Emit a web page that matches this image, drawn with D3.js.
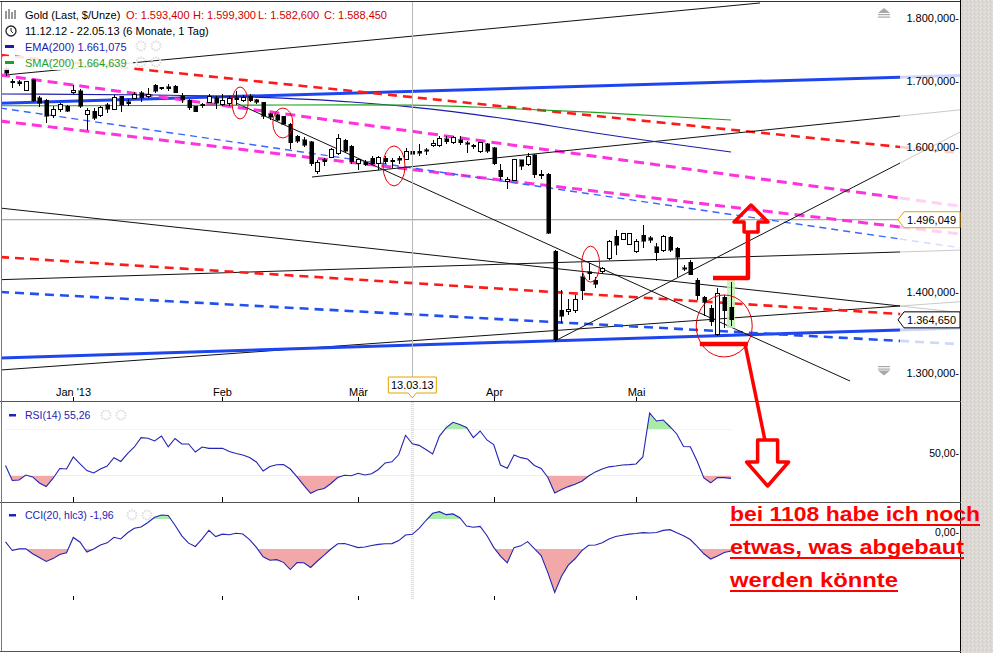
<!DOCTYPE html>
<html><head><meta charset="utf-8">
<script src="https://cdn.jsdelivr.net/npm/d3@7"></script>
<style>
html,body{margin:0;padding:0;background:#fff;}
svg{display:block;font-family:"Liberation Sans",Arial,sans-serif;}
</style></head><body>
<svg id="c" width="993" height="653"></svg>
<script>
// ---------- DATA ----------
const openP = [1719.6,1698.6,1697.8,1685.3,1700.9,1673.0,1669.9,1646.3,1656.1,1660.0,1681.4,1683.8,1647.1,1653.1,1646.3,1662.3,1656.1,1675.3,1666.9,1672.2,1681.4,1675.3,1692.3,1689.2,1690.7,1691.5,1675.3,1669.9,1660.0,1663.1,1666.1,1673.7,1663.1,1663.8,1673.7,1669.9,1675.3,1670.6,1666.1,1649.3,1647.1,1644.8,1632.8,1614.9,1610.4,1607.3,1563.8,1581.1,1584.0,1589.9,1609.6,1600.8,1574.6,1578.2,1582.6,1574.6,1582.6,1580.2,1582.6,1581.1,1593.4,1592.8,1595.0,1602.3,1602.3,1611.9,1605.9,1610.4,1605.9,1602.3,1592.8,1604.5,1598.6,1565.3,1550.2,1551.6,1580.4,1573.2,1587.7,1557.4,1560.2,1453.7,1376.5,1375.2,1376.5,1419.8,1426.5,1415.5,1426.5,1443.6,1473.2,1469.1,1462.4,1453.0,1475.2,1471.8,1459.7,1455.0,1472.5,1457.7,1431.8,1439.0,1415.5,1393.0,1379.0,1345.9,1393.0,1380.3];
const highP = [1722.8,1702.5,1700.9,1699.3,1702.5,1676.1,1671.4,1660.0,1665.3,1662.3,1692.3,1686.9,1657.7,1657.7,1660.8,1665.3,1677.6,1676.8,1672.2,1682.2,1683.8,1688.4,1694.7,1690.0,1693.9,1693.1,1681.4,1671.4,1660.8,1664.6,1679.9,1676.1,1679.9,1675.3,1683.8,1677.6,1678.4,1672.2,1667.6,1650.8,1649.3,1646.3,1634.3,1617.2,1613.4,1608.9,1580.4,1582.6,1597.2,1618.7,1611.9,1602.3,1581.9,1580.4,1585.5,1585.5,1585.5,1582.6,1585.5,1597.2,1599.3,1604.5,1597.2,1609.6,1614.9,1614.9,1615.7,1614.9,1608.9,1603.7,1607.3,1605.9,1600.1,1575.3,1556.6,1581.1,1581.1,1589.9,1589.2,1566.0,1561.7,1455.0,1402.6,1391.1,1395.6,1424.1,1438.4,1419.4,1433.0,1468.4,1482.0,1478.6,1478.6,1470.4,1488.8,1473.8,1464.4,1475.2,1473.8,1459.0,1435.0,1441.6,1418.0,1394.3,1383.4,1405.2,1396.2,1412.9];
const lowP = [1707.1,1688.4,1691.5,1683.8,1666.9,1659.3,1635.1,1642.5,1651.6,1651.6,1679.1,1657.7,1624.6,1639.5,1644.0,1650.1,1654.6,1652.3,1660.0,1671.4,1667.6,1673.0,1680.7,1685.3,1683.8,1680.7,1665.3,1654.6,1651.6,1657.7,1664.6,1656.1,1660.0,1660.0,1662.3,1667.6,1666.1,1663.1,1641.7,1639.5,1637.3,1632.1,1596.5,1605.9,1600.1,1571.0,1560.2,1571.0,1582.6,1587.7,1589.9,1574.6,1566.0,1571.0,1573.2,1566.0,1575.3,1568.9,1575.3,1580.4,1582.6,1585.5,1587.7,1600.1,1600.1,1604.5,1604.5,1602.3,1590.6,1596.5,1589.9,1591.3,1572.5,1551.6,1538.8,1549.5,1565.3,1571.0,1554.5,1553.0,1476.6,1337.3,1360.8,1370.8,1373.3,1389.8,1415.5,1405.2,1423.9,1441.6,1448.3,1468.4,1461.7,1451.7,1457.7,1464.4,1440.3,1453.0,1453.0,1420.0,1427.2,1421.9,1389.8,1368.9,1356.4,1344.7,1354.6,1357.0];
const closeP = [1711.8,1696.2,1694.7,1697.8,1669.1,1665.3,1644.8,1656.1,1662.3,1653.1,1685.3,1660.0,1654.6,1642.5,1658.5,1656.1,1673.7,1661.5,1663.8,1677.6,1673.0,1678.4,1683.0,1686.9,1686.9,1681.4,1670.6,1657.7,1652.3,1660.8,1675.3,1665.3,1668.4,1672.2,1670.6,1673.7,1668.4,1666.1,1644.8,1643.3,1639.5,1632.8,1605.9,1608.2,1602.3,1574.6,1576.8,1578.2,1595.0,1611.9,1592.8,1578.2,1580.4,1573.2,1575.3,1584.0,1578.2,1578.2,1580.2,1592.8,1588.45,1589.9,1592.8,1604.5,1611.9,1607.3,1613.4,1605.9,1603.7,1600.1,1605.9,1592.8,1574.6,1556.6,1552.3,1580.4,1571.0,1585.5,1558.8,1560.2,1477.9,1339.7,1368.9,1377.1,1390.5,1401.7,1423.9,1410.3,1430.4,1467.1,1461.7,1476.6,1477.3,1467.1,1467.1,1468.4,1451.7,1473.8,1455.0,1445.6,1429.8,1422.6,1394.9,1386.6,1362.0,1397.5,1375.8,1364.65];

const rsiVals = [38.8,25.7,26.2,30.5,28.8,23.6,20.5,27.5,36.2,35.7,46.2,40.1,34.4,32.3,35.7,38.3,45.6,42.3,49.2,54.9,63.0,62.5,60.1,64.4,55.1,62.3,57.5,57.5,50.5,54.9,53.7,53.7,53.7,51.0,49.2,47.9,45.7,41.8,34.0,37.9,39.4,39.7,35.7,28.8,21.4,14.6,17.5,18.8,23.1,28.3,30.3,29.9,32.0,30.5,31.6,35.3,41.0,42.0,48.3,65.1,57.7,56.3,52.7,48.8,64.4,71.8,76.4,74.4,71.8,63.1,68.8,61.0,57.0,39.2,36.3,47.9,45.6,44.4,38.8,36.2,28.3,14.9,17.9,20.4,22.5,25.1,29.6,33.2,35.8,37.6,38.3,39.2,39.5,40.1,46.2,84.5,77.5,78.4,72.5,66.2,55.3,55.1,42.7,27.9,23.7,28.3,28.2,27.6];
const cciVals = [-52,-110,-99,-98,-132,-157,-183,-164,-137,-125,-23,-55,-120,-100,-73,-59,-22,-33,8,38,47,77,112,127,123,58,-12,-61,-83,-33,25,-17,-1,-5,5,0,-37,-89,-152,-175,-171,-189,-237,-190,-192,-223,-180,-141,-100,-65,-63,-77,-91,-87,-77,-69,-65,-64,-44,-7,-2,37,90,138,149,129,134,109,53,45,51,-10,-89,-147,-192,-91,-79,-51,-97,-144,-259,-389,-282,-208,-165,-111,-75,-73,-59,-34,-17,-8,-1,3,9,7,10,24,29,9,-11,-37,-83,-132,-167,-147,-123,-113];

const emaIdx = [-0.8,22,36,51,60,73,87,107];
const emaVals = [1679.1,1677.6,1674.5,1666.9,1659.0,1642.5,1620.1,1592.1];
const smaIdx = [-0.8,22,36,51,60,73,87,107];
const smaVals = [1661.0,1661.5,1662.0,1662.5,1662.0,1657.5,1651.0,1639.5];

// trend lines: [startIndex, startPrice, endIndex, endPrice]
const trendLines = [
  [-0.07,1708.7,111.28,1825.5],
  [-0.81,1664.9,131.93,1705.3],
  [-0.81,1740.3,131.93,1599.4],
  [-0.81,1708.7,131.93,1526.2],
  [-0.81,1638.0,131.93,1486.1],
  [-0.81,1657.7,131.93,1469.8],
  [-0.81,1512.2,131.93,1382.1],
  [-0.81,1415.9,131.93,1452.4],
  [-0.81,1303.2,131.93,1382.1],
  [-0.81,1317.7,131.93,1352.1],
  [-0.81,1445.7,131.93,1372.0],
  [-0.81,1400.0,131.93,1338.5],
  [45.2,1555.9,131.93,1645.5],
  [34.0,1665.3,124.56,1290.1],
  [81.05,1338.5,131.93,1576.0]
];
const trendStyles = [
  {c:"#111",w:1,d:null,ext:false},
  {c:"#1f45f0",w:3,d:null,ext:true},
  {c:"#ff1a1a",w:2.6,d:"9,6",ext:true},
  {c:"#ff33dd",w:3,d:"10,6",ext:true},
  {c:"#ff33dd",w:3,d:"10,6",ext:true},
  {c:"#3a66ff",w:1.4,d:"7,5",ext:true},
  {c:"#111",w:1,d:null,ext:true},
  {c:"#111",w:1,d:null,ext:true},
  {c:"#111",w:1,d:null,ext:true},
  {c:"#1f45f0",w:3,d:null,ext:true},
  {c:"#ff1a1a",w:2.6,d:"9,6",ext:true},
  {c:"#2250f0",w:2.6,d:"9,6",ext:true},
  {c:"#111",w:1,d:null,ext:true},
  {c:"#111",w:1,d:null,ext:false},
  {c:"#111",w:1,d:null,ext:true}
];
const crossPrice = 1496.049;
const crossIndex = 60;
const crossDate = "13.03.13";

const priceTicks = [1300,1400,1600,1700,1800];
const monthIdx = [10,32,52,72,93];
const monthLabels = ["Jan '13","Feb","Mär","Apr","Mai"];

// annotation anchors (index, price)
const circleIdx = [34.6,40.9,57.3,86.3,106.0];
const circlePrice = [1665.3,1635.0,1571.8,1436.3,1357.0];
const upBar = [[104.35,1418.1],[109.5,1418.1],[109.5,1479.3]];
const upArrowAt = [109.96,1479.3];
const downBar = [[102.4,1334.8],[109.5,1334.8]];
const downDiag = [[109.1,1333.4],[112.0,1222.1]];
const downArrowAt = [112.4,1222.1];
const noteLines = ["bei 1108 habe ich noch","etwas, was abgebaut","werden könnte"];

// ---------- SCALES ----------
const svg = d3.select("#c");
const W = 993, H = 653;
const xS = d3.scaleLinear().domain([0,107]).range([5.5,731]);
const yP = d3.scaleLog().domain([1300,1800]).range([372.7,18.3]);
const yR = d3.scaleLinear().domain([50,80]).range([452.6,418.13]);
const yC = d3.scaleLinear().domain([0,100]).range([534,519]);
const loc = d3.formatLocale({decimal:",",thousands:".",grouping:[3],currency:["",""]});
const f3 = loc.format(",.3f"), f2 = loc.format(",.2f");

// background
svg.append("rect").attr("width",W).attr("height",H).attr("fill","#fff");
const defs = svg.append("defs");
const pat = defs.append("pattern").attr("id","dith").attr("width",4).attr("height",4).attr("patternUnits","userSpaceOnUse");
pat.append("rect").attr("width",4).attr("height",4).attr("fill","#dcd8d4");
pat.append("rect").attr("x",0).attr("y",0).attr("width",1).attr("height",1).attr("fill","#ebe6e2");
pat.append("rect").attr("x",2).attr("y",1).attr("width",1).attr("height",1).attr("fill","#cfc9c6");
pat.append("rect").attr("x",1).attr("y",3).attr("width",1).attr("height",1).attr("fill","#e6dcdc");
pat.append("rect").attr("x",3).attr("y",2).attr("width",1).attr("height",1).attr("fill","#d2d0cc");
svg.append("rect").attr("x",961).attr("y",0).attr("width",32).attr("height",H).attr("fill","url(#dith)");

defs.append("clipPath").attr("id","clipMain").append("rect").attr("x",1).attr("y",2).attr("width",899).attr("height",398);
defs.append("clipPath").attr("id","clipExt").append("rect").attr("x",900).attr("y",2).attr("width",60).attr("height",398);
defs.append("clipPath").attr("id","clipRsiLow").append("rect").attr("x",0).attr("y",yR(30)).attr("width",960).attr("height",100);
defs.append("clipPath").attr("id","clipRsiHigh").append("rect").attr("x",0).attr("y",400).attr("width",960).attr("height",yR(70)-400);
defs.append("clipPath").attr("id","clipCciLow").append("rect").attr("x",0).attr("y",yC(-100)).attr("width",960).attr("height",120);
defs.append("clipPath").attr("id","clipCciHigh").append("rect").attr("x",0).attr("y",500).attr("width",960).attr("height",yC(100)-500);

const gMain = svg.append("g").attr("clip-path","url(#clipMain)");
const gExt = svg.append("g").attr("clip-path","url(#clipExt)").attr("opacity",0.22);

// crosshair horizontal price line
gMain.append("line").attr("x1",0).attr("x2",900).attr("y1",yP(crossPrice)).attr("y2",yP(crossPrice))
  .attr("stroke","#9a9488").attr("stroke-width",1);
// crosshair vertical
svg.append("line").attr("x1",Math.round(xS(crossIndex))+0.5).attr("x2",Math.round(xS(crossIndex))+0.5)
  .attr("y1",2).attr("y2",377).attr("stroke","#b8b8b8").attr("stroke-width",1);
svg.append("line").attr("x1",Math.round(xS(crossIndex))+0.5).attr("x2",Math.round(xS(crossIndex))+0.5)
  .attr("y1",402).attr("y2",600).attr("stroke","#dcdcdc").attr("stroke-width",3).attr("stroke-dasharray","1,1");

// trend lines
function extendTo(l, iEnd){
  const t=(iEnd-l[0])/(l[2]-l[0]);
  return [iEnd, Math.exp(Math.log(l[1])+t*(Math.log(l[3])-Math.log(l[1])))];
}
trendLines.forEach((l,k)=>{
  const s = trendStyles[k];
  const ln = gMain.append("line").attr("x1",xS(l[0])).attr("y1",yP(l[1])).attr("x2",xS(l[2])).attr("y2",yP(l[3]))
    .attr("stroke",s.c).attr("stroke-width",s.w);
  if(s.d) ln.attr("stroke-dasharray",s.d);
  if(s.ext){
    const e = extendTo(l,141);
    const le = gExt.append("line").attr("x1",xS(l[2])).attr("y1",yP(l[3])).attr("x2",xS(e[0])).attr("y2",yP(e[1]))
      .attr("stroke",s.c).attr("stroke-width",s.w);
    if(s.d) le.attr("stroke-dasharray",s.d);
  }
});

// EMA / SMA
const curveLine = d3.line().curve(d3.curveMonotoneX);
gMain.append("path").attr("d",curveLine(emaIdx.map((d,i)=>[xS(d),yP(emaVals[i])])))
  .attr("fill","none").attr("stroke","#1c1ca8").attr("stroke-width",1.1);
gMain.append("path").attr("d",curveLine(smaIdx.map((d,i)=>[xS(d),yP(smaVals[i])])))
  .attr("fill","none").attr("stroke","#1fa01f").attr("stroke-width",1.1);

// highlight last candle
const last = openP.length-1;
gMain.append("rect").attr("x",xS(last)-4).attr("width",8).attr("y",yP(highP[last])-2)
  .attr("height",yP(lowP[last])-yP(highP[last])+4).attr("fill","#bff0b4").attr("opacity",0.85);

// candles
const gC = gMain.append("g").attr("shape-rendering","crispEdges");
openP.forEach((o,i)=>{
  const c = closeP[i], x = Math.round(xS(i));
  gC.append("line").attr("x1",x+0.5).attr("x2",x+0.5).attr("y1",yP(highP[i])).attr("y2",yP(lowP[i]))
    .attr("stroke","#000").attr("stroke-width",1);
  const top = yP(Math.max(o,c)), bot = yP(Math.min(o,c));
  const up = c>=o;
  gC.append("rect").attr("x",x-1.5).attr("width",4).attr("y",top).attr("height",Math.max(1,bot-top))
    .attr("fill",up?"#fff":"#000").attr("stroke","#000").attr("stroke-width",up?1:0.5);
});

// red ellipses
const ellR = [[8,16],[10,15],[11,20],[9,18],[28,31]];
circleIdx.forEach((ci,k)=>{
  svg.append("ellipse").attr("cx",xS(ci)).attr("cy",yP(circlePrice[k])).attr("rx",ellR[k][0]).attr("ry",ellR[k][1])
    .attr("fill","none").attr("stroke","#e80000").attr("stroke-width",1);
});

// ---------- AXES / FRAME ----------
const frame = svg.append("g").attr("stroke","#000").attr("shape-rendering","crispEdges");
frame.append("line").attr("x1",0).attr("x2",961).attr("y1",1.5).attr("y2",1.5).attr("stroke","#333");
frame.append("line").attr("x1",960.5).attr("x2",960.5).attr("y1",0).attr("y2",H);
frame.append("line").attr("x1",0).attr("x2",961).attr("y1",401.5).attr("y2",401.5).attr("stroke","#555");
frame.append("line").attr("x1",0).attr("x2",961).attr("y1",502.5).attr("y2",502.5).attr("stroke","#555");
frame.append("line").attr("x1",0).attr("x2",961).attr("y1",651.5).attr("y2",651.5).attr("stroke","#555");
frame.append("line").attr("x1",1.5).attr("x2",1.5).attr("y1",2).attr("y2",651).attr("stroke","#777");

priceTicks.forEach(t=>{
  svg.append("text").attr("x",959).attr("y",yP(t)+4).attr("text-anchor","end")
    .attr("font-size",11).attr("fill","#000").text(f3(t)+"-");
});
function tag(price, col){
  const y = yP(price);
  svg.append("path").attr("d",`M898,${y} L904,${y-8} L960,${y-8} L960,${y+8} L904,${y+8} Z`)
    .attr("fill","#fff").attr("stroke",col).attr("stroke-width",1);
  svg.append("text").attr("x",956).attr("y",y+4).attr("text-anchor","end").attr("font-size",11).text(f3(price));
}
tag(crossPrice,"#e0a400");
tag(closeP[last],"#000");

function scrollIcon(cx, y, dir){
  const g = svg.append("g").attr("fill","#a8a8a8");
  if(dir<0){
    g.append("path").attr("d",`M${cx-6},${y+5} L${cx},${y} L${cx+6},${y+5} Z`);
    g.append("rect").attr("x",cx-6).attr("y",y+6).attr("width",12).attr("height",1.2);
    g.append("rect").attr("x",cx-6).attr("y",y+8.5).attr("width",12).attr("height",1.2);
  } else {
    g.append("rect").attr("x",cx-6).attr("y",y).attr("width",12).attr("height",1.2);
    g.append("rect").attr("x",cx-6).attr("y",y+2.5).attr("width",12).attr("height",1.2);
    g.append("path").attr("d",`M${cx-6},${y+4.5} L${cx},${y+9.5} L${cx+6},${y+4.5} Z`);
  }
}
scrollIcon(884,8,-1);
scrollIcon(884,366,1);

monthIdx.forEach((mi,k)=>{
  const x = Math.round(xS(mi))+0.5;
  svg.append("text").attr("x",x).attr("y",396).attr("text-anchor","middle").attr("font-size",11).text(monthLabels[k]);
  [[397,401],[497,502],[596,600]].forEach(r=>{
    svg.append("line").attr("x1",x).attr("x2",x).attr("y1",r[0]).attr("y2",r[1]).attr("stroke","#000");
  });
});
{
  const x = xS(crossIndex);
  svg.append("path").attr("d",`M${x-24},377 L${x+24},377 L${x+24},393 L${x+4},393 L${x},398 L${x-4},393 L${x-24},393 Z`)
    .attr("fill","#fff").attr("stroke","#e0a400");
  svg.append("text").attr("x",x).attr("y",389).attr("text-anchor","middle").attr("font-size",11).text(crossDate);
}

// ---------- LEGENDS ----------
const lg = svg.append("g").attr("font-size",11);
// white backing behind legend rows
[[3,7,392,15],[3,24,210,15],[3,40,130,14],[3,56,130,14]].forEach(r=>
  lg.append("rect").attr("x",r[0]).attr("y",r[1]).attr("width",r[2]).attr("height",r[3]).attr("fill","#fff").attr("opacity",0.88));
const ic = lg.append("g").attr("stroke","#333").attr("stroke-width",1);
[[6,11,19],[9,9,19],[12,12,19],[15,10,19]].forEach(a=>ic.append("line").attr("x1",a[0]).attr("x2",a[0]).attr("y1",a[1]).attr("y2",a[2]));
lg.append("text").attr("x",25).attr("y",19).text("Gold (Last, $/Unze)");
[["O: 1.593,400",126],["H: 1.599,300",193],["L: 1.582,600",258],["C: 1.588,450",324]].forEach(t=>
  lg.append("text").attr("x",t[1]).attr("y",19).attr("fill","#d00000").text(t[0]));
lg.append("circle").attr("cx",11).attr("cy",31).attr("r",5).attr("fill","none").attr("stroke","#222").attr("stroke-width",1.3);
lg.append("path").attr("d","M11,28 L11,31 L13,33").attr("fill","none").attr("stroke","#222");
lg.append("text").attr("x",25).attr("y",35).text("11.12.12 - 22.05.13 (6 Monate, 1 Tag)");
lg.append("rect").attr("x",5).attr("y",45).attr("width",9).attr("height",3).attr("fill","#1c1ca8");
lg.append("text").attr("x",25).attr("y",51).attr("fill","#1c1ca8").text("EMA(200)  1.661,075");
lg.append("rect").attr("x",5).attr("y",61).attr("width",9).attr("height",3).attr("fill","#1fa01f");
lg.append("text").attr("x",25).attr("y",67).attr("fill","#1fa01f").text("SMA(200)  1.664,639");
[[141,46],[156,46],[141,62],[156,62]].forEach(p=>lg.append("circle").attr("cx",p[0]).attr("cy",p[1]).attr("r",4.5)
  .attr("fill","none").attr("stroke","#ddd").attr("stroke-width",2).attr("stroke-dasharray","1.5,1"));

// ---------- RSI ----------
const rsiLine = d3.line().x((d,i)=>xS(i)).y(d=>yR(d));
const rsiArea = d3.area().x((d,i)=>xS(i)).y1(d=>yR(d));
svg.append("path").attr("clip-path","url(#clipRsiLow)").attr("d",rsiArea.y0(yR(30))(rsiVals)).attr("fill","#f2a8a8");
svg.append("path").attr("clip-path","url(#clipRsiHigh)").attr("d",rsiArea.y0(yR(70))(rsiVals)).attr("fill","#a8eca8");
svg.append("path").attr("d",rsiLine(rsiVals)).attr("fill","none").attr("stroke","#2323b4").attr("stroke-width",1.1);
svg.append("rect").attr("x",9).attr("y",414).attr("width",7).attr("height",2.5).attr("fill","#2323b4");
svg.append("text").attr("x",25).attr("y",419).attr("font-size",10.5).attr("fill","#2323b4").text("RSI(14)  55,26");
[[106,415],[121,415]].forEach(p=>svg.append("circle").attr("cx",p[0]).attr("cy",p[1]).attr("r",4.5)
  .attr("fill","none").attr("stroke","#ddd").attr("stroke-width",2).attr("stroke-dasharray","1.5,1"));
svg.append("text").attr("x",959).attr("y",yR(50)+4).attr("text-anchor","end").attr("font-size",10.5).text(f2(50)+"-");

// ---------- CCI ----------
const cciLine = d3.line().x((d,i)=>xS(i)).y(d=>yC(d));
const cciArea = d3.area().x((d,i)=>xS(i)).y1(d=>yC(d));
svg.append("path").attr("clip-path","url(#clipCciLow)").attr("d",cciArea.y0(yC(-100))(cciVals)).attr("fill","#f2a8a8");
svg.append("path").attr("clip-path","url(#clipCciHigh)").attr("d",cciArea.y0(yC(100))(cciVals)).attr("fill","#a8eca8");
svg.append("path").attr("d",cciLine(cciVals)).attr("fill","none").attr("stroke","#2323b4").attr("stroke-width",1.1);
svg.append("rect").attr("x",9).attr("y",514).attr("width",7).attr("height",2.5).attr("fill","#2323b4");
svg.append("text").attr("x",25).attr("y",519).attr("font-size",10.5).attr("fill","#2323b4").text("CCI(20, hlc3)  -1,96");
[[132,515],[147,515]].forEach(p=>svg.append("circle").attr("cx",p[0]).attr("cy",p[1]).attr("r",4.5)
  .attr("fill","none").attr("stroke","#ddd").attr("stroke-width",2).attr("stroke-dasharray","1.5,1"));
svg.append("text").attr("x",959).attr("y",yC(0)+2).attr("text-anchor","end").attr("font-size",10.5).text(f2(0)+"-");

// ---------- RED ANNOTATIONS ----------
const red = "#ff0000";
const pl = d3.line().x(d=>xS(d[0])).y(d=>yP(d[1]));
svg.append("path").attr("d",pl(upBar)).attr("fill","none").attr("stroke",red).attr("stroke-width",4.5).attr("stroke-linejoin","round");
svg.append("path").attr("d",pl(downBar)).attr("fill","none").attr("stroke",red).attr("stroke-width",4.5);
svg.append("path").attr("d",pl(downDiag)).attr("fill","none").attr("stroke",red).attr("stroke-width",3.5);
{
  const ax = xS(upArrowAt[0]), ay = yP(upArrowAt[1]);
  svg.append("path").attr("d",`M${ax-7},${ay} L${ax+7},${ay} L${ax+7},${ay-10} L${ax+17},${ay-10} L${ax},${ay-27} L${ax-17},${ay-10} L${ax-7},${ay-10} Z`)
    .attr("fill","none").attr("stroke",red).attr("stroke-width",3.5).attr("stroke-linejoin","round");
}
{
  const ax = xS(downArrowAt[0]), ay = yP(downArrowAt[1]);
  svg.append("path").attr("d",`M${ax-10},${ay} L${ax+10},${ay} L${ax+10},${ay+22} L${ax+21},${ay+22} L${ax},${ay+46} L${ax-21},${ay+22} L${ax-10},${ay+22} Z`)
    .attr("fill","#fff").attr("stroke",red).attr("stroke-width",3.5).attr("stroke-linejoin","round");
}
const noteW = [250,234,168];
noteLines.forEach((t,k)=>{
  const y = 521 + k*33;
  svg.append("text").attr("x",730).attr("y",y).attr("font-size",21).attr("font-weight","bold").attr("fill",red)
    .attr("textLength",noteW[k]).attr("lengthAdjust","spacingAndGlyphs").text(t);
  svg.append("line").attr("x1",730).attr("x2",730+noteW[k]).attr("y1",y+4).attr("y2",y+4).attr("stroke",red).attr("stroke-width",2);
});
</script>
</body></html>
